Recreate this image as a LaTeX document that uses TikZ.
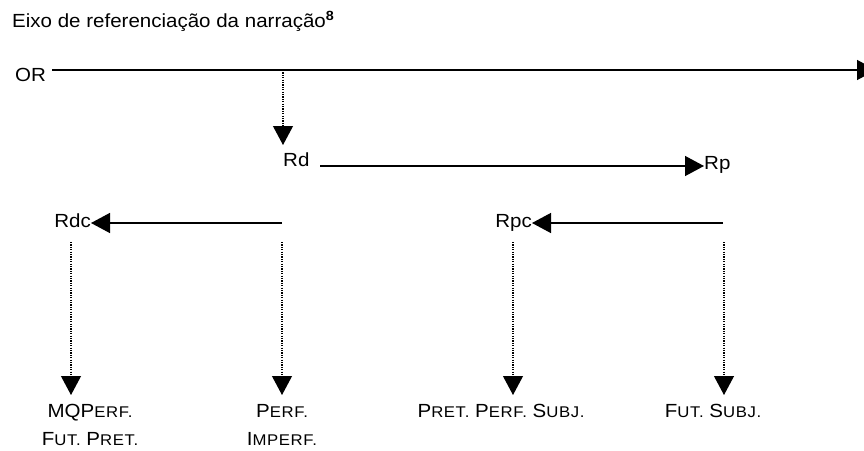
\documentclass[tikz,border=0pt]{standalone}
\usepackage{fontspec}
\setmainfont{Liberation Sans}[FakeStretch=1.08]
\usetikzlibrary{arrows.meta}
\newcommand{\fsc}[1]{{\fontsize{15.5}{28}\selectfont\addfontfeatures{LetterSpace=4}#1}}
\begin{document}
\begin{tikzpicture}[x=1pt,y=-1pt,
  lbl/.style={inner sep=0pt, font=\fontsize{19}{28}\selectfont},
  solidarr/.style={line width=1.4pt, -{Triangle[length=19pt,width=20pt]}},
  dotarr/.style={line width=1.1pt, dash pattern=on 1.1pt off 1.3pt, -{Triangle[length=19pt,width=20pt]}}]
\useasboundingbox (0,0) rectangle (864,450);
% title
\node[lbl, anchor=base west] (title) at (12,27) {Eixo de referenciação da narração\textsuperscript{\textbf{8}}};
% OR axis
\node[lbl, anchor=base west] (OR) at (15,81) {OR};
\coordinate (orS) at (52,70);
\coordinate (orE) at (876,70);
\draw[solidarr] (orS) -- (orE);
% Rd
\coordinate (dA) at (283,70);
\node[lbl, anchor=base west] (Rd) at (283,166.5) {Rd};
\coordinate (rdTip) at (283,145);
\draw[dotarr] (dA) -- (rdTip);
\coordinate (rdS) at (320,166);
\node[lbl, anchor=base west] (Rp) at (704,169) {Rp};
\draw[solidarr] (rdS) -- (Rp.west |- rdS);
% row 3
\node[lbl, anchor=base east] (Rdc) at (91,227) {Rdc};
\coordinate (rdcS) at (282,223);
\draw[solidarr] (rdcS) -- (Rdc.east |- rdcS);
\node[lbl, anchor=base east] (Rpc) at (532,227) {Rpc};
\coordinate (rpcS) at (723,223);
\draw[solidarr] (rpcS) -- (Rpc.east |- rpcS);
% bottom labels
\node[lbl, anchor=north, align=center] (mq) at (90,404) {MQP\fsc{ERF.}\\F\fsc{UT.} P\fsc{RET.}};
\node[lbl, anchor=north, align=center] (pf) at (282,404) {P\fsc{ERF.}\\I\fsc{MPERF.}};
\node[lbl, anchor=north, align=center] (pps) at (501,404) {P\fsc{RET.} P\fsc{ERF.} S\fsc{UBJ.}};
\node[lbl, anchor=north, align=center] (fs) at (713,404) {F\fsc{UT.} S\fsc{UBJ.}};
% dotted verticals
\coordinate (v1) at (71,242);
\coordinate (v2) at (282,242);
\coordinate (v3) at (513,242);
\coordinate (v4) at (724,242);
\draw[dotarr, shorten >=9pt] (v1) -- (v1 |- mq.north);
\draw[dotarr, shorten >=9pt] (v2) -- (v2 |- pf.north);
\draw[dotarr, shorten >=9pt] (v3) -- (v3 |- pps.north);
\draw[dotarr, shorten >=9pt] (v4) -- (v4 |- fs.north);
\end{tikzpicture}
\end{document}
